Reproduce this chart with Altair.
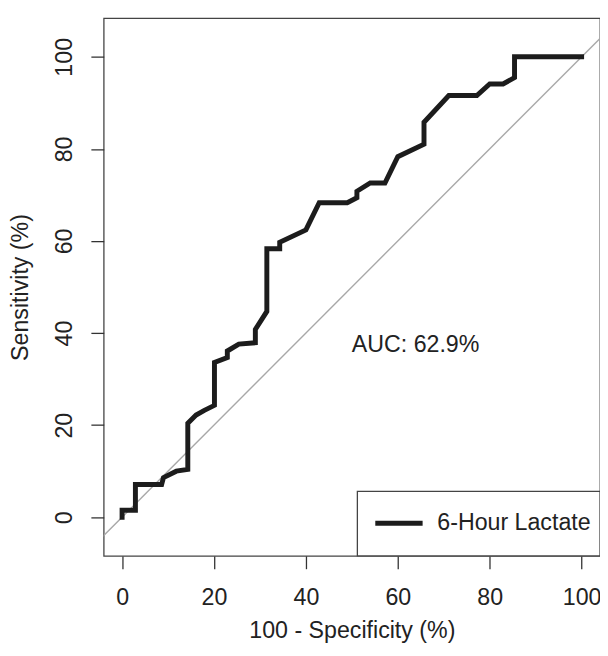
import altair as alt
import pandas as pd

# ROC curve points (100 - specificity, sensitivity)
fpr = [0, 0, 2.9, 2.9, 8.6, 9.0, 11.8, 14.3, 14.3, 16.1, 17.9, 20.1, 20.1, 22.9, 22.9,
       25.4, 29.0, 29.0, 31.5, 31.5, 34.3, 34.3, 40.0, 42.9, 49.0, 51.1, 51.1, 54.0,
       57.2, 60.0, 65.7, 65.7, 71.1, 77.2, 80.0, 82.9, 85.4, 85.4, 100]
tpr = [0, 1.5, 1.5, 7.1, 7.1, 8.6, 10.0, 10.4, 20.4, 22.2, 23.2, 24.3, 33.6, 34.7, 36.1,
       37.6, 37.9, 40.8, 44.7, 58.3, 58.3, 59.7, 62.4, 68.3, 68.3, 69.4, 70.8, 72.6,
       72.6, 78.3, 81.0, 85.8, 91.6, 91.6, 94.1, 94.1, 95.5, 100, 100]

tick_values = [0, 20, 40, 60, 80, 100]
x_domain = [-4, 104]
y_domain = [-8.4, 108.4]

curve = pd.DataFrame({"x": fpr, "y": tpr, "i": list(range(len(fpr)))})
diag = pd.DataFrame({"x": [-20, 120], "y": [-20, 120]})

FONT = "Liberation Sans"
TXT = "#222222"
FS = 23.5

xenc = alt.X("x:Q", scale=alt.Scale(domain=x_domain, nice=False, zero=False),
             axis=alt.Axis(values=tick_values, title="100 - Specificity (%)"))
yenc = alt.Y("y:Q", scale=alt.Scale(domain=y_domain, nice=False, zero=False),
             axis=alt.Axis(values=tick_values, title="Sensitivity (%)",
                           labelAngle=270, labelAlign="center", labelBaseline="alphabetic"))

diag_layer = alt.Chart(diag).mark_line(color="#a8a8a8", strokeWidth=1.4, clip=True).encode(
    x=xenc, y=yenc)

curve_layer = alt.Chart(curve).mark_line(color="#1c1c1c", strokeWidth=5,
                                         strokeJoin="miter", strokeCap="square").encode(
    x=xenc, y=yenc, order="i:Q")

legend_box = pd.DataFrame({"x": [51.2], "x2": [104], "y": [-8.4], "y2": [5.6]})
box_layer = alt.Chart(legend_box).mark_rect(fill="white", stroke="#444444",
                                            strokeWidth=1.3).encode(
    x=alt.X("x:Q"), x2="x2:Q", y=alt.Y("y:Q"), y2="y2:Q")

legend_line = pd.DataFrame({"x": [55.1], "x2": [65.4], "y": [-1.3]})
line_layer = alt.Chart(legend_line).mark_rule(color="#1c1c1c", strokeWidth=5).encode(
    x=alt.X("x:Q"), x2="x2:Q", y=alt.Y("y:Q"))

legend_text = pd.DataFrame({"x": [68.6], "y": [-1.3], "t": ["6-Hour Lactate"]})
ltext_layer = alt.Chart(legend_text).mark_text(align="left", baseline="middle",
                                               font=FONT, fontSize=FS, color=TXT).encode(
    x=alt.X("x:Q"), y=alt.Y("y:Q"), text="t:N")

auc_text = pd.DataFrame({"x": [50.0], "y": [37.3], "t": ["AUC: 62.9%"]})
auc_layer = alt.Chart(auc_text).mark_text(align="left", baseline="middle",
                                          font=FONT, fontSize=FS, color=TXT).encode(
    x=alt.X("x:Q"), y=alt.Y("y:Q"), text="t:N")

chart = alt.layer(diag_layer, curve_layer, box_layer, line_layer, ltext_layer, auc_layer).properties(
    width=503, height=545,
    autosize=alt.AutoSizeParams(type="none"),
    padding={"left": 97, "top": 6, "right": 0, "bottom": 84},
).configure_view(
    stroke="#444444", strokeWidth=1.3
).configure_axis(
    grid=False, domain=False, tickSize=13, tickColor="#333333", tickWidth=1.3,
    labelFont=FONT, labelFontSize=FS, labelColor=TXT,
    titleFont=FONT, titleFontSize=FS, titleColor=TXT, titleFontWeight="normal",
).configure_axisX(
    labelPadding=36, labelBaseline="alphabetic", titlePadding=29, titleBaseline="alphabetic"
).configure_axisY(
    labelPadding=20, titlePadding=20
)

chart.save("out.html", embed_options={"renderer": "svg", "actions": False})
